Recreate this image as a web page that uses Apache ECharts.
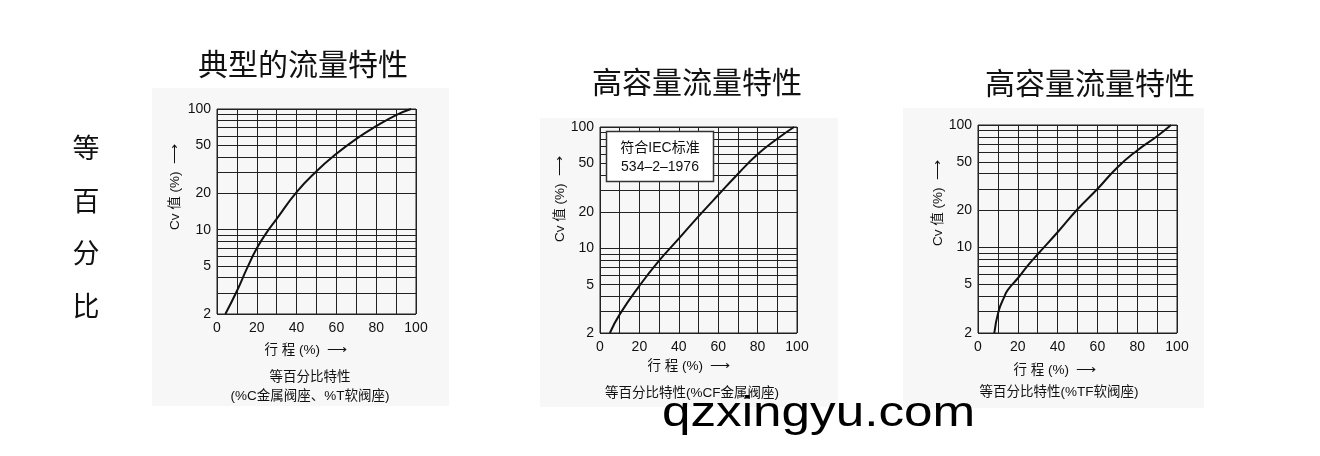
<!DOCTYPE html>
<html><head><meta charset="utf-8">
<script src="https://cdn.jsdelivr.net/npm/echarts@6/dist/echarts.min.js"></script>
<style>html,body{margin:0;padding:0;background:#fff}#c{width:1320px;height:456px}</style>
</head><body><div id="c"></div>
<script>
// ---- data ----
const travelTickLabels = [0, 20, 40, 60, 80, 100];
const cvGridValues = [2, 3, 4, 5, 6, 7, 8, 9, 10, 20, 30, 40, 50, 60, 70, 80, 90, 100];
const cvTickLabels = [2, 5, 10, 20, 50, 100];

// chart 1: typical (%C metal seat, %T soft seat)
const travel1 = [4.2, 10, 15, 20, 25, 30, 40, 50, 60, 70, 80, 90, 97.5];
const cv1 = [2, 3.1, 4.75, 7.0, 9.5, 12.3, 20.5, 30.5, 42.5, 56.5, 72, 89, 100];
// chart 2: high capacity (%CF metal seat)
const travel2 = [5, 10, 20, 30, 40, 50, 60, 70, 80, 90, 98.5];
const cv2 = [2, 2.85, 4.9, 7.9, 12.0, 18.3, 27.5, 41, 59.5, 80, 100];
// chart 3: high capacity (%TF soft seat)
const travel3 = [8.2, 10.3, 13.2, 15, 20, 25, 30, 40, 50, 60, 70, 80, 90, 97];
const cv3 = [2, 3, 3.95, 4.5, 5.6, 7.1, 8.8, 13.3, 20.5, 30, 45, 62, 81, 100];

const titles = ['典型的流量特性', '高容量流量特性', '高容量流量特性'];
const captions = [['等百分比特性', '(%C金属阀座、%T软阀座)'], ['等百分比特性(%CF金属阀座)'], ['等百分比特性(%TF软阀座)']];

// ---- layout ----
const grids = [
  {left: 217, top: 109, width: 199, height: 205},
  {left: 600, top: 127, width: 197, height: 206},
  {left: 978, top: 125, width: 199, height: 208}
];
const LAT = 'Liberation Sans, Arial, Noto Sans CJK SC, sans-serif';
const CJK = 'Noto Sans CJK SC, sans-serif';
const LINE = '#222';

const series = [[travel1, cv1], [travel2, cv2], [travel3, cv3]].map((p, i) => ({
  type: 'line', xAxisIndex: i, yAxisIndex: i,
  data: p[0].map((x, k) => [x, p[1][k]]),
  showSymbol: false, smooth: 0.5, clip: true,
  lineStyle: {color: '#111', width: 2}, z: 5
}));

const xAxis = grids.map((g, i) => ({
  type: 'value', gridIndex: i, min: 0, max: 100, interval: 10,
  axisLine: {show: false}, axisTick: {show: false},
  axisLabel: {customValues: travelTickLabels, margin: 7, fontSize: 14, color: '#111', fontFamily: LAT},
  splitLine: {show: true, lineStyle: {color: LINE, width: 1}}
}));
const yAxis = grids.map((g, i) => ({
  type: 'log', logBase: 10, gridIndex: i, min: 2, max: 100,
  axisLine: {show: false},
  axisTick: {show: false, customValues: cvGridValues},
  axisLabel: {customValues: cvTickLabels, margin: 6, fontSize: 14, color: '#111', fontFamily: LAT},
  splitLine: {show: true, lineStyle: {color: LINE, width: 1}}
}));

const graphic = [];
// light panels behind charts
[[152, 88, 297, 318], [540, 118, 298, 289], [903, 108, 301, 300]].forEach(r => graphic.push({
  type: 'rect', z: -10, shape: {x: r[0], y: r[1], width: r[2], height: r[3]}, style: {fill: '#f7f7f7'}
}));
function txt(x, y, text, size, font, extra) {
  return Object.assign({type: 'text', x: x, y: y, z: 20,
    style: {text: text, fontSize: size, fontFamily: font, fill: '#111', align: 'center', verticalAlign: 'middle'}}, extra || {});
}
// titles
[[303, 64], [697, 82], [1090, 83]].forEach((p, i) => graphic.push(txt(p[0], p[1], titles[i], 30, CJK)));
// vertical left label
['等', '百', '分', '比'].forEach((ch, k) => graphic.push(txt(86, 148 + k * 52.5, ch, 27, CJK)));
// y-axis names
[[175, 187], [560, 199], [938, 203]].forEach(p => graphic.push(txt(p[0], p[1], 'Cv 值 (%)  ⟶', 13.5, LAT, {rotation: Math.PI / 2})));
// x-axis names
[[306, 350], [689, 366], [1055, 370]].forEach(p => graphic.push(txt(p[0], p[1], '行 程 (%)  ⟶', 13.5, LAT)));
// captions
graphic.push(txt(310, 377, captions[0][0], 13.5, LAT));
graphic.push(txt(310, 396, captions[0][1], 13.5, LAT));
graphic.push(txt(692, 393, captions[1][0], 13.5, LAT));
graphic.push(txt(1059, 392, captions[2][0], 13.5, LAT));
// IEC box in chart 2
graphic.push({type: 'rect', z: 10, shape: {x: 606.5, y: 131.5, width: 107, height: 50},
  style: {fill: '#fff', stroke: '#333', lineWidth: 1.5}});
graphic.push(txt(660, 148, '符合IEC标准', 14, LAT));
graphic.push(txt(660, 167, '534–2–1976', 14, LAT));
// watermark
graphic.push({type: 'text', x: 662, y: 414, z: 30, scaleX: 1.22,
  style: {text: 'qzxingyu.com', fontSize: 42, fontFamily: LAT, fill: '#000', align: 'left', verticalAlign: 'middle'}});

const chart = echarts.init(document.getElementById('c'));
chart.setOption({
  animation: false,
  backgroundColor: '#fff',
  grid: grids.map(g => Object.assign({show: true, borderColor: LINE, borderWidth: 1, backgroundColor: 'transparent', containLabel: false}, g)),
  xAxis: xAxis, yAxis: yAxis, series: series, graphic: graphic
});
</script></body></html>
